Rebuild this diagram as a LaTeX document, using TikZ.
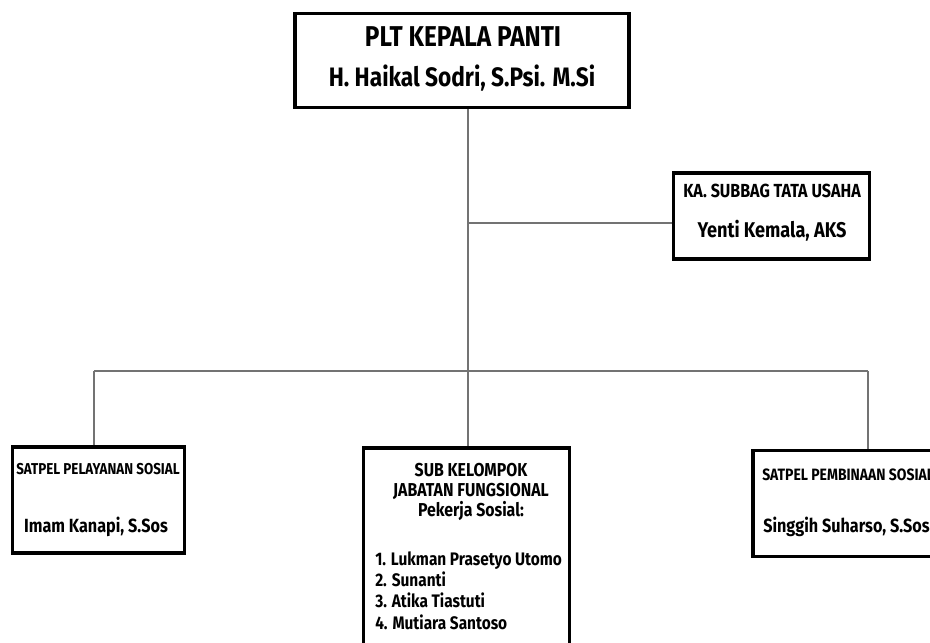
\documentclass[tikz,border=0pt]{standalone}
\usepackage{fontspec}
\setmainfont{Fira Sans}[FakeStretch=0.85]
\usepackage{tikz}
\usetikzlibrary{positioning}

\begin{document}
\begin{tikzpicture}[x=0.75pt,y=-0.75pt]
        \useasboundingbox (0,0) rectangle (930,642);
        \clip (0,0) rectangle (930,642);
        % boxes
        \begin{scope}[every node/.style={draw=black,line width=2.4pt,fill=white,rectangle,inner sep=0pt}]
          \node[minimum width=250.5pt,minimum height=71pt] (kepala) at (462,60.5) {};
          \node[minimum width=147.5pt,minimum height=64.5pt] (subbag) at (771.5,216) {};
          \node[minimum width=129.5pt,minimum height=79.5pt] (pelayanan) at (98.5,500) {};
          \node[minimum width=155pt,minimum height=151.5pt] (fungsional) at (466.5,549) {};
          \node[minimum width=144pt,minimum height=80pt] (pembinaan) at (849,503.5) {};
        \end{scope}
        % texts
        \begin{scope}[every node/.style={inner sep=0pt,font=\bfseries}]
          \node[font=\bfseries\fontsize{21.5}{23}\selectfont] (kepala1) at (463,37) {PLT KEPALA PANTI};
          \node[font=\bfseries\fontsize{20}{22}\selectfont] (kepala2) at (462,78) {H. Haikal Sodri, S.Psi. M.Si};
          \node[font=\bfseries\fontsize{14.2}{16}\selectfont] (subbag1) at (772,191) {KA. SUBBAG TATA USAHA};
          \node[font=\bfseries\fontsize{16}{18}\selectfont] (subbag2) at (772,231) {Yenti Kemala, AKS};
          \node[font=\bfseries\fontsize{11.8}{13}\selectfont] (pelayanan1) at (98,469) {SATPEL PELAYANAN SOSIAL};
          \node[font=\bfseries\fontsize{14.3}{16}\selectfont] (pelayanan2) at (96,527) {Imam Kanapi, S.Sos};
          \node[font=\bfseries\fontsize{12.3}{14}\selectfont,anchor=west] (pembinaan1) at (762,475) {SATPEL PEMBINAAN SOSIAL};
          \node[font=\bfseries\fontsize{14.3}{16}\selectfont,anchor=west] (pembinaan2) at (763,527) {Singgih Suharso, S.Sos};
          \node[font=\bfseries\fontsize{14}{15}\selectfont,align=center] (fungsional1) at (471,492)
            {SUB KELOMPOK\\JABATAN FUNGSIONAL\\Pekerja Sosial:};
          \node[font=\bfseries\fontsize{13.6}{16.1}\selectfont,align=left,anchor=west] (fungsional2) at (375,590.5)
            {1. Lukman Prasetyo Utomo\\2. Sunanti\\3. Atika Tiastuti\\4. Mutiara Santoso};
        \end{scope}
        % junctions
        \coordinate (cabang) at (468,223);
        \coordinate (tengah) at (468,371);
        \coordinate (kiri) at (94,371);
        \coordinate (kanan) at (868,371);
        \begin{scope}[every edge/.style={draw=black!55,line width=1.2pt}]
          \path (kepala.south -| tengah) edge (tengah);
          \path (cabang) edge (subbag.west |- cabang);
          \path (kiri) edge (kanan);
          \path (kiri) edge (pelayanan.north -| kiri);
          \path (tengah) edge (fungsional.north -| tengah);
          \path (kanan) edge (pembinaan.north -| kanan);
        \end{scope}
      \end{tikzpicture}
\end{document}
